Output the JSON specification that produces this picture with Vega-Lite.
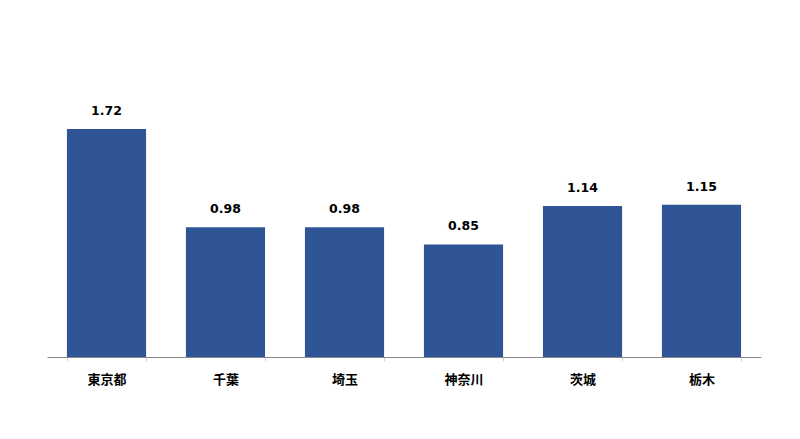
{
  "$schema": "https://vega.github.io/schema/vega-lite/v6.json",
  "autosize": {"type": "none"},
  "width": 714,
  "height": 265,
  "padding": {"left": 47, "top": 92, "right": 39, "bottom": 82},
  "background": "white",
  "config": {"view": {"stroke": null}},
  "data": {"values": [
    {"pref": "東京都", "value": 1.72},
    {"pref": "千葉", "value": 0.98},
    {"pref": "埼玉", "value": 0.98},
    {"pref": "神奈川", "value": 0.85},
    {"pref": "茨城", "value": 1.14},
    {"pref": "栃木", "value": 1.15}
  ]},
  "encoding": {
    "x": {"field": "pref", "type": "nominal", "sort": null,
      "scale": {"paddingInner": 0.335, "paddingOuter": 0.1675},
      "axis": {"title": null, "labelAngle": 0, "labelFont": "Noto Sans CJK JP", "labelFontWeight": "bold", "labelFontSize": 13, "labelColor": "#000000", "labelPadding": 12, "domainColor": "#888888", "domainWidth": 1, "ticks": true, "tickBand": "extent", "tickColor": "#d0d0d0", "tickSize": 4, "tickOffset": 0}},
    "y": {"field": "value", "type": "quantitative", "scale": {"domain": [0, 2.0]}, "axis": null}
  },
  "layer": [
    {"mark": {"type": "bar", "color": "#2F5597"}},
    {"mark": {"type": "text", "dy": -18, "font": "DejaVu Sans", "fontWeight": "bold", "fontSize": 12.5, "color": "#000000"},
     "encoding": {"text": {"field": "value", "type": "quantitative", "format": ".2f"}}}
  ]
}
